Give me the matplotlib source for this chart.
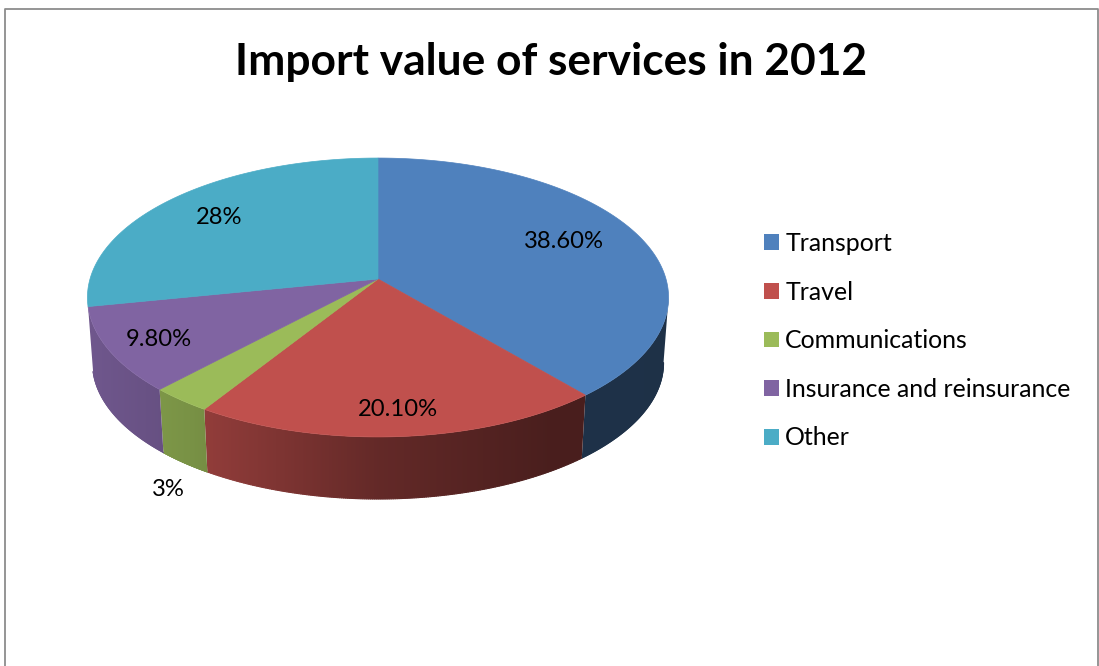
import numpy as np
import matplotlib
matplotlib.use("Agg")
import matplotlib.pyplot as plt
from matplotlib.lines import Line2D
from matplotlib.patches import Patch, Polygon

plt.rcParams['font.family'] = ['Lato', 'DejaVu Sans']

######## DATA #######
categories = ['Transport', 'Travel', 'Communications', 'Insurance and reinsurance', 'Other']
values = [38.6, 20.1, 3, 9.8, 28]
value_labels = ['38.60%', '20.10%', '3%', '9.80%', '28%']
colors = ['#4f81bd', '#c0504d', '#9bbb59', '#8064a2', '#4bacc6']

# label centres in pixels
label_x = [564, 398, 168, 159, 219]
label_y = [241, 410, 489, 339, 217]

######## PIE GEOMETRY #######
W, H = 1099, 666
CX = 378
TILT = 0.1326      # perspective strength
TOP_R, TOP_B, TOP_Y = 288, 137, 279
BOT_R, BOT_B, BOT_Y = 283, 134, 344.5


def project(theta, radius, r, b, y0):
    # theta runs clockwise from 12 o'clock, radius 0-1
    u = radius * np.sin(theta)
    v = -radius * np.cos(theta)
    s = 1 / (1 - TILT * v)
    return CX + r * u * s, y0 + b * v * s


def wall_gradient(color, xs):
    # side wall gets darker towards the right
    f = np.interp((xs - CX) / TOP_R, [-1, -0.65, 0, 0.6, 1], [0.87, 0.78, 0.52, 0.385, 0.38])
    return f[None, :, None] * np.array(matplotlib.colors.to_rgb(color))


fig = plt.figure(figsize=(W / 100, H / 100), dpi=100)
ax = fig.add_axes([0, 0, 1, 1])

fractions = np.array(values) / sum(values)
edges = np.concatenate([[0], np.cumsum(fractions)]) * 2 * np.pi

# Only the front of the wall shows, between the two widest points of the rim
front_start = np.arccos(-TILT)
front_end = 2 * np.pi - front_start

# Side wall, one clipped gradient per slice
xs = np.linspace(CX - 300, CX + 300, 601)
for i in range(len(values)):
    start, end = max(edges[i], front_start), min(edges[i + 1], front_end)
    # a slice that barely reaches the front has no wall worth drawing
    if end - start < 0.1:
        continue
    t = np.linspace(start, end, 200)
    x1, y1 = project(t, 1, TOP_R, TOP_B, TOP_Y)
    x2, y2 = project(t, 1, BOT_R, BOT_B, BOT_Y)
    outline = np.column_stack([np.r_[x1, x2[::-1]], np.r_[y1, y2[::-1]]])
    im = ax.imshow(wall_gradient(colors[i], xs), aspect='auto', zorder=2,
                   extent=(xs[0], xs[-1], BOT_Y + 170, TOP_Y - 140), interpolation='bilinear')
    im.set_clip_path(Polygon(outline, closed=True, transform=ax.transData))
    # soften the outer rim of the wall
    rim = wall_gradient(colors[i], x2)[0]
    for j in range(len(t) - 1):
        ax.plot(x2[j:j + 2], y2[j:j + 2], color=rim[j], linewidth=0.8, zorder=2,
                solid_capstyle='round')

# Top face
for i in range(len(values)):
    t = np.linspace(edges[i], edges[i + 1], 200)
    x, y = project(t, 1, TOP_R, TOP_B, TOP_Y)
    pts = np.column_stack([np.r_[CX, x], np.r_[TOP_Y, y]])
    ax.add_patch(Polygon(pts, closed=True, facecolor=colors[i], edgecolor=colors[i],
                         linewidth=0.5, zorder=3))

ax.set_xlim(0, W)
ax.set_ylim(H, 0)
ax.axis('off')

for lx, ly, s in zip(label_x, label_y, value_labels):
    ax.text(lx, ly, s, ha='center', va='center', fontsize=17.1, color='black', zorder=4)

ax.text(551, 62, 'Import value of services in 2012', ha='center', va='center',
        fontsize=31.9, fontweight='bold', color='black')

handles = [Patch(facecolor=c, edgecolor='none') for c in colors]
ax.legend(handles, categories, loc='upper left', bbox_to_anchor=(764 / W, 1 - 232 / H),
          bbox_transform=fig.transFigure, frameon=False, fontsize=17.9,
          handlelength=0.6, handleheight=0.6, handletextpad=0.25,
          labelspacing=1.03, borderaxespad=0, borderpad=0)

# Chart frame, open at the bottom
frame_x = [4.5, 4.5, 1097.5, 1097.5]
frame_y = [666, 8.5, 8.5, 666]
ax.add_line(Line2D(frame_x, frame_y, color='#8c8c8c', linewidth=1.3, zorder=5))

fig.savefig('out.png', dpi=100)
